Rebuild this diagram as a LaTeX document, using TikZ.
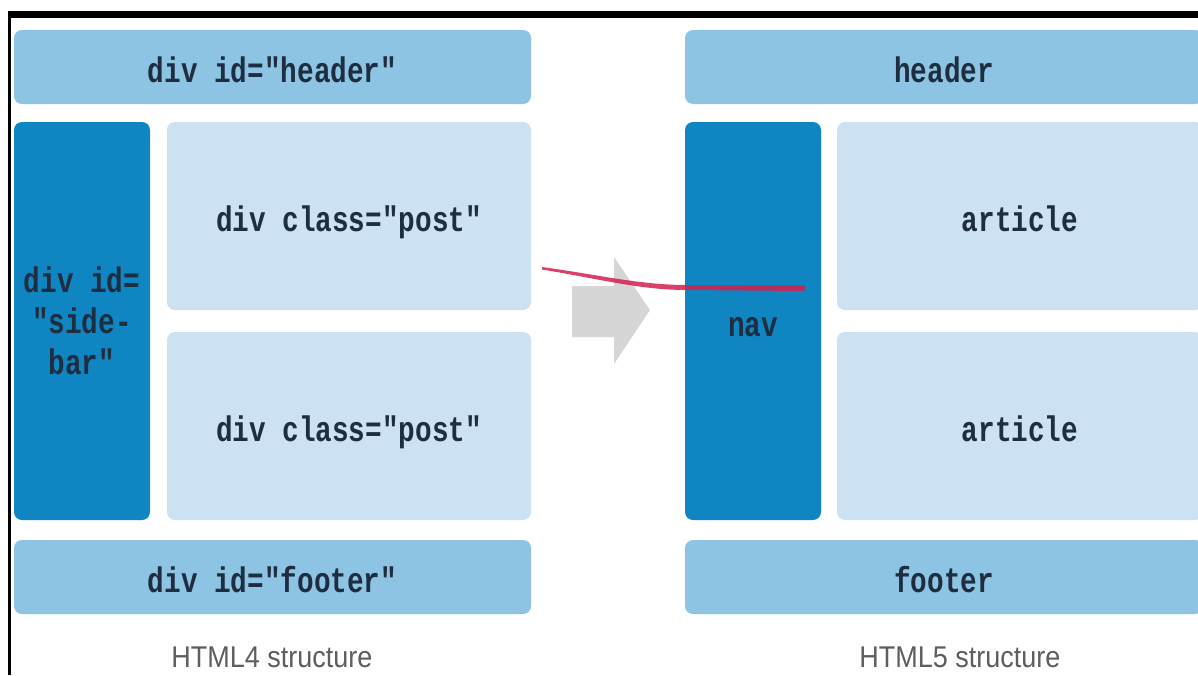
\documentclass[tikz,border=0pt]{standalone}
\usepackage{fontspec}
\newfontfamily\boxfont[FakeStretch=0.78]{Liberation Mono Bold}
\newfontfamily\capfont[FakeStretch=0.9]{Liberation Sans}
\definecolor{barblue}{HTML}{8DC4E4}
\definecolor{postblue}{HTML}{CCE2F2}
\definecolor{sideblue}{HTML}{0F86C2}
\definecolor{inktext}{HTML}{1E2D40}
\definecolor{capgray}{HTML}{5E5E5E}
\definecolor{arrowgray}{HTML}{D6D6D6}
\definecolor{redmark}{HTML}{D41F4E}
\tikzset{
  x=1pt, y=-1pt,
  block/.style={rounded corners=8pt, inner sep=0pt, text=inktext,
    font=\boxfont\fontsize{35.5}{41}\selectfont, text height=30pt, text depth=0pt},
  wide/.style={block, fill=barblue, minimum width=#1, minimum height=74pt},
  postbox/.style={block, fill=postblue, minimum width=#1, minimum height=188pt},
  sidebox/.style={block, fill=sideblue, minimum width=136pt, minimum height=398pt},
  caption/.style={anchor=base, inner sep=0pt, text=capgray, font=\capfont\fontsize{30}{34}\selectfont}
}
\begin{document}
\begin{tikzpicture}
\useasboundingbox (0,0) rectangle (1198,675);
\clip (0,0) rectangle (1198,675);
\fill[white] (0,0) rectangle (1198,675);
% frame
\fill[black] (8,11) rectangle (1198,18);
\fill[black] (8,11) rectangle (11,675);
% HTML4
\node[wide=517pt] (hdr4) at (272.5,67) {div id="header"};
\node[sidebox, text height=, text depth=, align=center] (side4) at (82,321) {div id=\\"side-\\bar"};
\node[postbox=364pt] (post4a) at (349,216) {div class="post"};
\node[postbox=364pt] (post4b) at (349,426) {div class="post"};
\node[wide=517pt] (foot4) at (272.5,577) {div id="footer"};
\node[caption] (cap4) at (272,667) {HTML4 structure};
% HTML5
\node[wide=518pt] (hdr5) at (944,67) {header};
\node[sidebox, text height=30pt] (nav5) at (753,321) {nav};
\node[postbox=366pt] (art5a) at (1020,216) {article};
\node[postbox=366pt] (art5b) at (1020,426) {article};
\node[wide=518pt] (foot5) at (944,577) {footer};
\node[caption] (cap5) at (960,667) {HTML5 structure};
% grey arrow
\fill[arrowgray] (572,286) -- (614,286) -- (614,257) -- (650,310) -- (614,364) -- (614,337) -- (572,337) -- cycle;
% red stroke
\fill[redmark, opacity=0.85] (542,267) .. controls (600,275) and (640,285) .. (687,285)
  -- (803,285.5) .. controls (806.5,285.5) and (806.5,291) .. (803,291)
  -- (687,290) .. controls (640,290) and (600,279) .. (542,269.5) -- cycle;
\end{tikzpicture}
\end{document}
